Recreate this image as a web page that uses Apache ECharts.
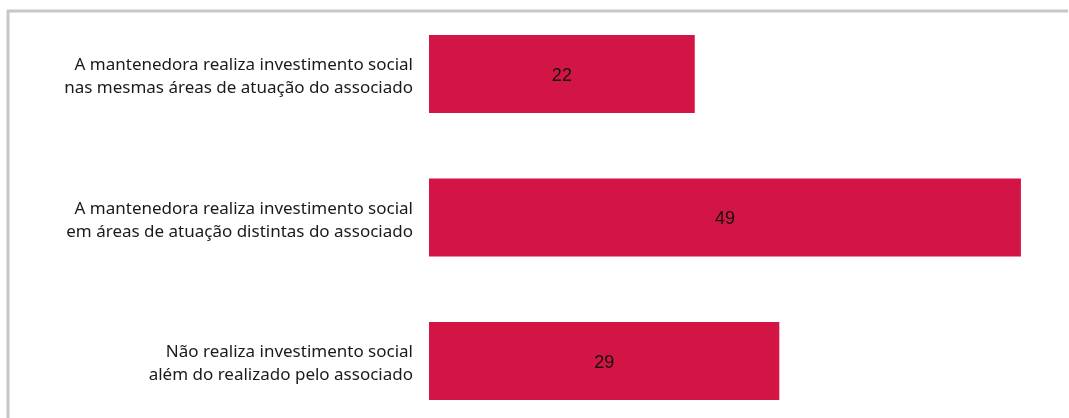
<!DOCTYPE html>
<html>
<head>
<meta charset="utf-8">
<script src="https://cdn.jsdelivr.net/npm/echarts@6/dist/echarts.min.js"></script>
<style>
  html, body { margin: 0; padding: 0; background: #ffffff; }
  #chart { width: 1069px; height: 418px; }
</style>
</head>
<body>
<div id="chart"></div>
<script>
// Categories, top to bottom
const categories = [
  'A mantenedora realiza investimento social\nnas mesmas áreas de atuação do associado',
  'A mantenedora realiza investimento social\nem áreas de atuação distintas do associado',
  'Não realiza investimento social\nalém do realizado pelo associado'
];
// Percent of respondents per category
const values = [22, 49, 29];

const chart = echarts.init(document.getElementById('chart'), null, { renderer: 'canvas' });

chart.setOption({
  backgroundColor: '#ffffff',
  animation: false,
  // category ticks sit on the grid edges (boundaryGap false), so top/bottom are bar centres
  grid: { left: 429, top: 74, width: 604, height: 287, containLabel: false },
  xAxis: {
    type: 'value',
    min: 0,
    max: 50,
    show: false
  },
  yAxis: {
    type: 'category',
    data: categories,
    inverse: true,
    boundaryGap: false,
    axisLine: { show: false },
    axisTick: { show: false },
    splitLine: { show: false },
    axisLabel: {
      margin: 16,
      align: 'right',
      color: '#1a1a1a',
      fontFamily: 'Noto Sans',
      fontSize: 17,
      lineHeight: 23,
      // a thin spacer line on top nudges the two-line block slightly downward
      formatter: function (v) { return '{s| }\n' + v; },
      rich: { s: { fontSize: 1, lineHeight: 6 } }
    }
  },
  series: [{
    type: 'bar',
    data: values,
    barWidth: 78,
    itemStyle: { color: '#d31545' },
    label: {
      show: true,
      position: 'inside',
      offset: [0, 2],
      color: '#111111',
      fontFamily: 'Liberation Sans',
      fontSize: 18
    }
  }],
  graphic: [
    {
      type: 'line',
      shape: { x1: 7, y1: 11, x2: 1068, y2: 11 },
      style: { stroke: '#c8c8c8', lineWidth: 3 }
    },
    {
      type: 'line',
      shape: { x1: 8, y1: 10, x2: 8, y2: 418 },
      style: { stroke: '#c8c8c8', lineWidth: 3 }
    }
  ]
});
</script>
</body>
</html>
